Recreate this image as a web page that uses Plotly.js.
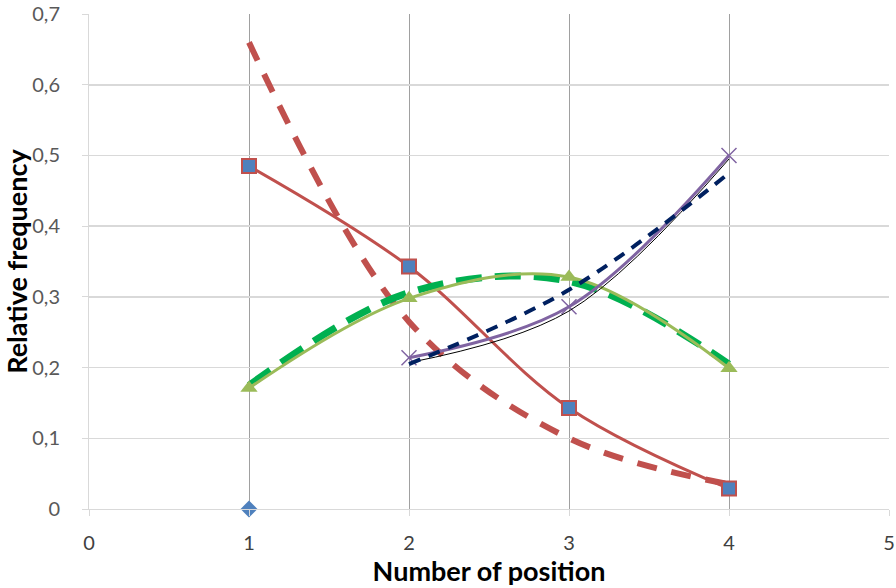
<!DOCTYPE html>
<html>
<head>
<meta charset="utf-8">
<script src="https://cdn.plot.ly/plotly-3.0.1.min.js"></script>
<style>
  html, body { margin: 0; padding: 0; background: #fff; }
  #chart { width: 896px; height: 588px; }
</style>
</head>
<body>
<div id="chart"></div>
<script>
// positions
const pos = [1, 2, 3, 4];
const posTail = [2, 3, 4];

// observed series
const squareVals = [0.485, 0.343, 0.143, 0.029];
const triangleVals = [0.171, 0.298, 0.328, 0.199];
const crossVals = [0.214, 0.286, 0.5];
const diamondX = [1];
const diamondVals = [0];

// fitted curves
const redFitVals = [0.66, 0.265, 0.1, 0.035];
const greenFitVals = [0.175, 0.306, 0.322, 0.205];
const navyFitVals = [0.205, 0.31, 0.475];
const blackFitVals = [0.207, 0.28, 0.495];

// axis ticks
const xTicks = [0, 1, 2, 3, 4, 5];
const yTicks = [0, 0.1, 0.2, 0.3, 0.4, 0.5, 0.6, 0.7];
const yTickText = ["0", "0,1", "0,2", "0,3", "0,4", "0,5", "0,6", "0,7"];

const traces = [
  {
    x: pos, y: redFitVals, mode: "lines",
    line: { color: "#C0504D", width: 6, dash: "20px,15px", shape: "spline" }
  },
  {
    x: pos, y: squareVals, mode: "lines+markers",
    line: { color: "#C0504D", width: 3, shape: "spline" },
    marker: { symbol: "square", size: 14, color: "#4F81BD", line: { color: "#C0504D", width: 2 } }
  },
  {
    x: pos, y: greenFitVals, mode: "lines",
    line: { color: "#00B050", width: 7, dash: "26px,13px", shape: "spline" }
  },
  {
    x: pos, y: triangleVals, mode: "lines+markers",
    line: { color: "#9BBB59", width: 3, shape: "spline" },
    marker: { symbol: "triangle-up", size: 15, color: "#9BBB59" }
  },
  {
    x: posTail, y: crossVals, mode: "lines+markers",
    line: { color: "#8064A2", width: 3, shape: "spline" },
    marker: { symbol: "x-thin", size: 15, line: { color: "#8064A2", width: 1.5 } }
  },
  {
    x: posTail, y: blackFitVals, mode: "lines",
    line: { color: "#000000", width: 1, shape: "spline" }
  },
  {
    x: posTail, y: navyFitVals, mode: "lines",
    line: { color: "#002060", width: 4, dash: "12px,9px", shape: "spline" }
  },
  {
    x: diamondX, y: diamondVals, mode: "markers", cliponaxis: false,
    marker: { symbol: "diamond", size: 13, color: "#4F81BD" }
  }
];

const layout = {
  width: 896,
  height: 588,
  margin: { l: 89, r: 7, t: 14, b: 79 },
  showlegend: false,
  paper_bgcolor: "#ffffff",
  plot_bgcolor: "#ffffff",
  font: { family: "Lato, 'Open Sans', sans-serif", color: "#595959", size: 20 },
  xaxis: {
    range: [0, 5],
    tickvals: xTicks,
    showgrid: true,
    gridcolor: "#a0a0a0",
    gridwidth: 1,
    zeroline: false,
    showline: true,
    linecolor: "#d9d9d9",
    ticks: "outside",
    ticklen: 6,
    tickcolor: "#d9d9d9",
    ticklabelstandoff: 10,
    tickfont: { size: 20, color: "#404040" },
    title: { text: "<b>Number of position</b>", font: { size: 27, color: "#000000" }, standoff: 4 }
  },
  yaxis: {
    range: [0, 0.7001],
    tickvals: yTicks,
    ticktext: yTickText,
    ticklabeloverflow: "allow",
    showgrid: true,
    gridcolor: "#d9d9d9",
    gridwidth: 1.5,
    zeroline: false,
    showline: true,
    linecolor: "#d9d9d9",
    ticks: "outside",
    ticklen: 6,
    tickcolor: "#d9d9d9",
    ticklabelstandoff: 18,
    tickfont: { size: 20, color: "#595959" },
    title: { text: "<b>Relative frequency</b>", font: { size: 27, color: "#000000" }, standoff: 2 }
  }
};

Plotly.newPlot("chart", traces, layout, { staticPlot: true });
</script>
</body>
</html>
